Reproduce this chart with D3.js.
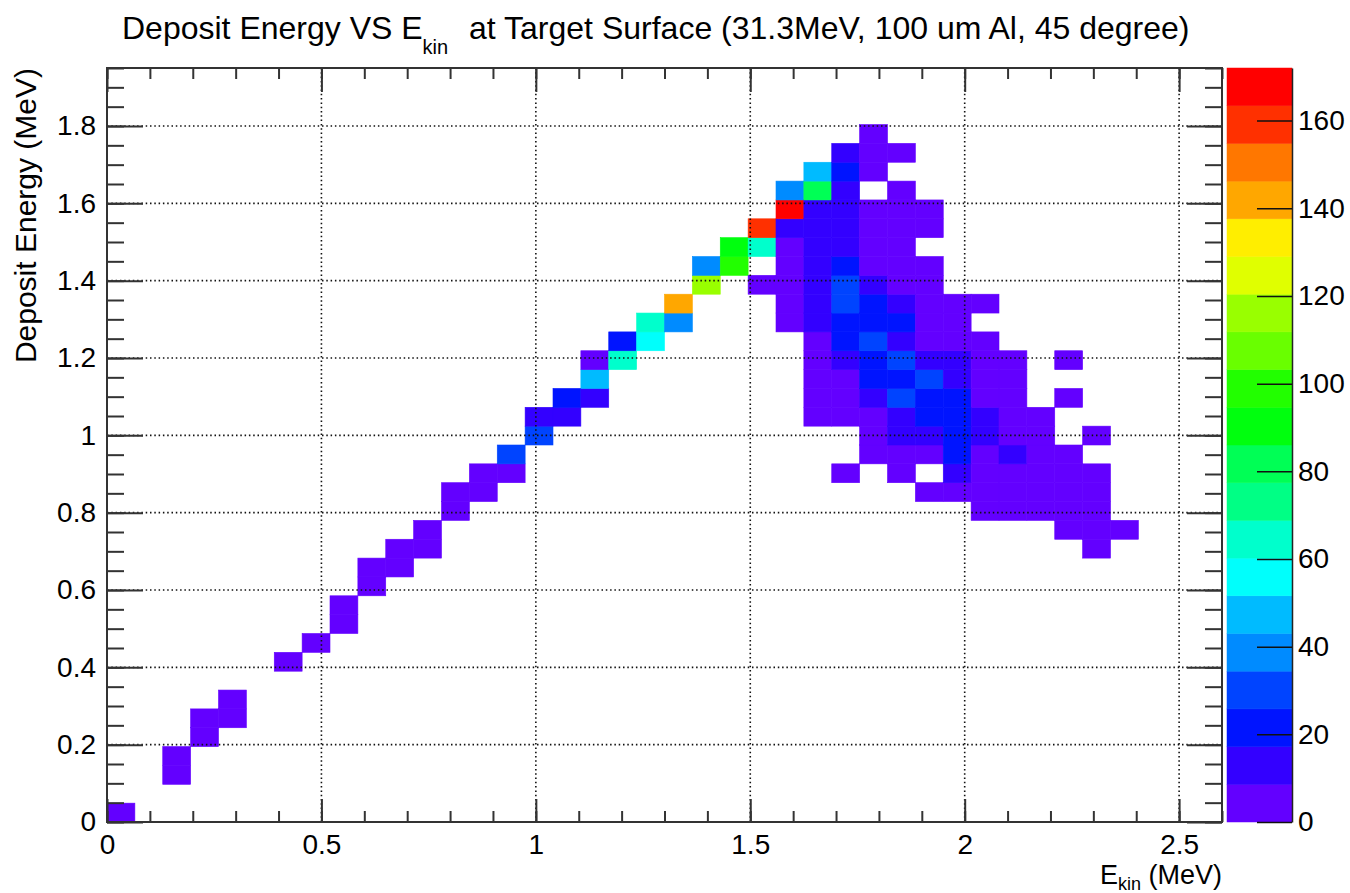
<!DOCTYPE html>
<html><head><meta charset="utf-8">
<script src="https://cdn.jsdelivr.net/npm/d3@7"></script>
<style>
body{margin:0;background:#fff}
text{font-family:"Liberation Sans",Arial,Helvetica,sans-serif;fill:#000}
</style>
</head><body>
<svg id="chart" width="1350" height="893"></svg>
<script>
// ---------- binning (TH2 definition) ----------
const xRange = [0, 2.6];   // E_kin (MeV)
const yRange = [0, 1.95];  // Deposit Energy (MeV)
const nBinsX = 40;
const nBinsY = 40;

// ---------- tick labels ----------
const xTicks = [0, 0.5, 1, 1.5, 2, 2.5];
const yTicks = [0, 0.2, 0.4, 0.6, 0.8, 1, 1.2, 1.4, 1.6, 1.8];
const zTicks = [0, 20, 40, 60, 80, 100, 120, 140, 160];

// ---------- filled bins: x-bin index, y-bin index, entries ----------
const binX = [
  0, 2,2, 3,3, 4,4, 6, 7, 8,8, 9,9, 10,10, 11,11, 12,12, 13,13, 14,14, 15,15, 16,16, 17,17,17,
  18,18, 19,19, 20,20, 21,21, 22,22, 23,23,23,
  24,24,24,24,24,24,24,24,
  25,25,25,25,25,25,25,25,25,25,25,25,25,25,
  26,26,26,26,26,26,26,26,26,26,26,26,26,26,26,26,
  27,27,27,27,27,27,27,27,27,27,27,27,27,27,27,27,27,
  28,28,28,28,28,28,28,28,28,28,28,28,28,28,28,28,28,
  29,29,29,29,29,29,29,29,29,29,29,29,29,29,
  30,30,30,30,30,30,30,30,30,30,30,
  31,31,31,31,31,31,31,31,31,31,31,
  32,32,32,32,32,32,32,32,32,
  33,33,33,33,33,33,
  34,34,34,34,34,34,34,
  35,35,35,35,35,35,
  36
];
const binY = [
  0, 2,3, 4,5, 5,6, 8, 9, 10,11, 12,13, 13,14, 14,15, 16,17, 17,18, 18,19, 20,21, 21,22, 22,23,24,
  24,25, 25,26, 26,27, 28,29, 29,30, 28,30,31,
  26,27,28,29,30,31,32,33,
  21,22,23,24,25,26,27,28,29,30,31,32,33,34,
  18,21,22,23,24,25,26,27,28,29,30,31,32,33,34,35,
  19,20,21,22,23,24,25,26,27,28,29,30,31,32,34,35,36,
  18,19,20,21,22,23,24,25,26,27,28,29,30,31,32,33,35,
  17,19,20,21,22,23,24,25,26,27,28,29,31,32,
  17,18,19,20,21,22,23,24,25,26,27,
  16,17,18,19,20,21,22,23,24,25,27,
  16,17,18,19,20,21,22,23,24,
  16,17,18,19,20,21,
  15,16,17,18,19,22,24,
  14,15,16,17,18,20,
  15
];
const counts = [
  3, 2,3, 3,2, 2,3, 2, 3, 3,4, 4,3, 3,5, 4,5, 5,6, 5,6, 7,30, 30,13, 14,21, 13,47,5,
  64,21, 56,64, 39,142, 116,39, 99,90, 4,64,159,
  3,5,6,7,6,13,172,39,
  4,5,6,7,7,12,13,14,13,12,14,13,82,47,
  2,5,6,7,12,20,22,30,29,19,14,15,13,11,20,12,
  3,5,7,13,21,22,31,23,20,14,7,6,7,6,5,4,3,
  3,6,11,13,29,21,30,14,20,13,7,6,5,6,5,3,2,
  3,7,12,19,21,28,13,7,6,6,5,4,4,3,
  4,10,18,21,20,19,14,11,7,5,4,
  3,5,6,8,11,10,7,6,5,3,2,
  4,5,7,10,7,6,5,4,2,
  4,5,6,6,4,3,
  3,4,5,5,3,1,1,
  2,3,4,3,2,1,
  2
];

// ---------- layout ----------
const frame = {left: 107, right: 1222, top: 68, bottom: 822};
const bar = {left: 1227, right: 1292};
const nContours = 20;

const svg = d3.select("#chart");
const x = d3.scaleLinear().domain(xRange).range([frame.left, frame.right]);
const y = d3.scaleLinear().domain(yRange).range([frame.bottom, frame.top]);
const bwX = (xRange[1] - xRange[0]) / nBinsX;
const bwY = (yRange[1] - yRange[0]) / nBinsY;
const zMax = d3.max(counts);
const z = d3.scaleLinear().domain([0, zMax]).range([frame.bottom, frame.top]);

// ROOT "pretty" palette (HLS, violet -> red), 50 colours, sampled for 20 contours
const palette = d3.range(nContours).map(k => {
  const idx = Math.floor((k + 0.99) * 50 / nContours);
  const hue = idx < 49 ? 280 - (idx + 1) * 5.6 : 0;
  return d3.hsl(hue, 1, 0.5).formatHex();
});
const color = d3.scaleQuantize().domain([0, zMax]).range(palette);

const cells = binX.map((bx, i) => ({bx, by: binY[i], n: counts[i]}));

// ---------- histogram cells ----------
svg.append("g").selectAll("rect").data(cells).join("rect")
  .attr("x", d => x(xRange[0] + d.bx * bwX))
  .attr("y", d => y(yRange[0] + (d.by + 1) * bwY))
  .attr("width", d => x(xRange[0] + (d.bx + 1) * bwX) - x(xRange[0] + d.bx * bwX))
  .attr("height", d => y(yRange[0] + d.by * bwY) - y(yRange[0] + (d.by + 1) * bwY))
  .attr("fill", d => color(d.n))
  .attr("stroke", d => color(d.n))
  .attr("stroke-width", 0.6);

// ---------- grid ----------
const grid = svg.append("g").attr("stroke", "#111").attr("stroke-width", 1.6)
  .attr("stroke-dasharray", "1.5,2.8");
grid.selectAll("line.v").data(xTicks.filter(v => v > xRange[0])).join("line")
  .attr("x1", d => x(d)).attr("x2", d => x(d))
  .attr("y1", frame.top).attr("y2", frame.bottom);
grid.selectAll("line.h").data(yTicks.filter(v => v > yRange[0])).join("line")
  .attr("y1", d => y(d)).attr("y2", d => y(d))
  .attr("x1", frame.left).attr("x2", frame.right);

// ---------- axes ----------
const tickCol = "#333";
function styleAxis(g, fs) {
  g.select(".domain").remove();
  g.selectAll(".tick line").attr("stroke", tickCol).attr("stroke-width", 2);
  g.selectAll("text").attr("font-size", fs).attr("fill", "#000")
    .attr("font-family", '"Liberation Sans",Arial,sans-serif');
}
const fmt = d3.format("~g");
const xMinor = d3.range(0, 2.6001, 0.1);
const yMinor = d3.range(0, 1.9501, 0.05);

svg.append("g").attr("transform", `translate(0,${frame.bottom})`)
  .call(d3.axisBottom(x).tickValues(xMinor).tickSize(-11).tickFormat(""))
  .call(g => styleAxis(g, 28));
svg.append("g").attr("transform", `translate(0,${frame.bottom})`)
  .call(d3.axisBottom(x).tickValues(xTicks).tickSize(-23).tickPadding(12).tickFormat(fmt))
  .call(g => styleAxis(g, 28));
svg.append("g").attr("transform", `translate(0,${frame.top})`)
  .call(d3.axisTop(x).tickValues(xMinor).tickSize(-11).tickFormat(""))
  .call(g => styleAxis(g, 28));
svg.append("g").attr("transform", `translate(0,${frame.top})`)
  .call(d3.axisTop(x).tickValues(xTicks).tickSize(-24).tickFormat(""))
  .call(g => styleAxis(g, 28));

svg.append("g").attr("transform", `translate(${frame.left},0)`)
  .call(d3.axisLeft(y).tickValues(yMinor).tickSize(-17).tickFormat(""))
  .call(g => styleAxis(g, 28));
svg.append("g").attr("transform", `translate(${frame.left},0)`)
  .call(d3.axisLeft(y).tickValues(yTicks).tickSize(-36).tickPadding(11).tickFormat(fmt))
  .call(g => styleAxis(g, 28));
svg.append("g").attr("transform", `translate(${frame.right},0)`)
  .call(d3.axisRight(y).tickValues(yMinor).tickSize(-17).tickFormat(""))
  .call(g => styleAxis(g, 28));
svg.append("g").attr("transform", `translate(${frame.right},0)`)
  .call(d3.axisRight(y).tickValues(yTicks).tickSize(-35).tickFormat(""))
  .call(g => styleAxis(g, 28));

// frame
svg.append("rect")
  .attr("x", frame.left).attr("y", frame.top)
  .attr("width", frame.right - frame.left).attr("height", frame.bottom - frame.top)
  .attr("fill", "none").attr("stroke", tickCol).attr("stroke-width", 2);

// ---------- colour bar ----------
const bands = d3.range(nContours).map(k => ({lo: k * zMax / nContours, hi: (k + 1) * zMax / nContours, c: palette[k]}));
svg.append("g").selectAll("rect").data(bands).join("rect")
  .attr("x", bar.left).attr("width", bar.right - bar.left)
  .attr("y", d => z(d.hi)).attr("height", d => z(d.lo) - z(d.hi))
  .attr("fill", d => d.c).attr("stroke", d => d.c).attr("stroke-width", 0.5);
svg.append("g").attr("transform", `translate(${bar.right},0)`)
  .call(d3.axisRight(z).tickValues(zTicks).tickSize(-35).tickSizeOuter(0).tickPadding(6).tickFormat(fmt))
  .call(g => {
    g.select(".domain").attr("stroke", "#222").attr("stroke-width", 1.5);
    g.selectAll(".tick line").attr("stroke", "#111").attr("stroke-width", 1.5);
    g.selectAll("text").attr("font-size", 28).attr("fill", "#000");
  });

// ---------- titles ----------
const title = svg.append("text").attr("x", 122).attr("y", 39).attr("font-size", 32);
title.append("tspan").text("Deposit Energy VS E");
title.append("tspan").attr("font-size", 20).attr("dy", 15).text("kin");
title.append("tspan").attr("dy", -15).attr("dx", 12).text(" at Target Surface (31.3MeV, 100 um Al, 45 degree)");

const xt = svg.append("text").attr("x", frame.right).attr("y", 884)
  .attr("text-anchor", "end").attr("font-size", 27);
xt.append("tspan").text("E");
xt.append("tspan").attr("font-size", 18).attr("dy", 6).text("kin");
xt.append("tspan").attr("dy", -6).text(" (MeV)");

svg.append("text")
  .attr("transform", `translate(36,${frame.top}) rotate(-90)`)
  .attr("text-anchor", "end").attr("font-size", 30)
  .text("Deposit Energy (MeV)");
</script>
</body></html>
